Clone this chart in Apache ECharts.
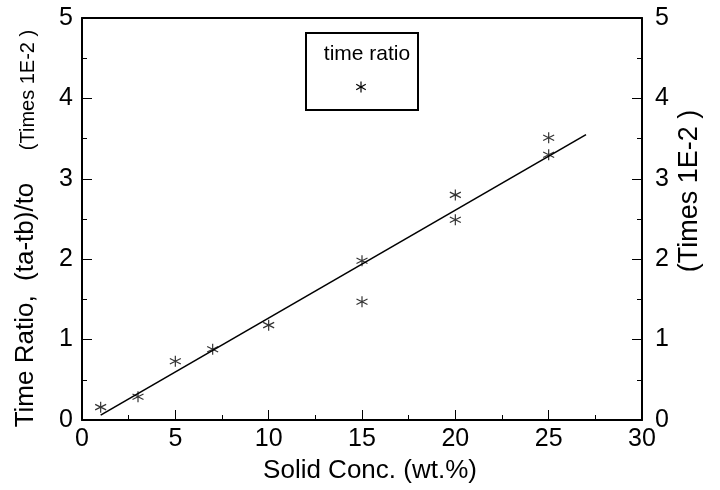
<!DOCTYPE html>
<html>
<head>
<meta charset="utf-8">
<script src="https://cdn.jsdelivr.net/npm/echarts@6/dist/echarts.min.js"></script>
<style>
  html, body { margin: 0; padding: 0; background: #fff; }
  #chart { width: 720px; height: 490px; }
</style>
</head>
<body>
<div id="chart"></div>
<script>
// measured points (solid conc. wt.%, time ratio x1E-2)
var concX = [1, 3, 5, 7, 10, 15, 15, 20, 20, 25, 25]
var ratioY = [0.16, 0.29, 0.73, 0.88, 1.18, 1.98, 1.47, 2.80, 2.49, 3.51, 3.30]
// fitted straight line
var fitX = [1, 27]
var fitY = [0.06, 3.55]

var font = 'Liberation Sans, Arial, Helvetica, sans-serif'
var star = 'path://M0,-1L0,1M-0.87,-0.5L0.87,0.5M-0.87,0.5L0.87,-0.5'

var myChart = echarts.init(document.getElementById('chart'))

function yAxisOpt(pos, align, margin) {
  return {
    type: 'value',
    position: pos,
    min: 0,
    max: 5,
    interval: 1,
    axisLine: { show: true, onZero: false, lineStyle: { color: '#000', width: 2 } },
    axisTick: { show: true, inside: true, length: 10, lineStyle: { color: '#000', width: 1 } },
    minorTick: { show: true, splitNumber: 2, length: 5, lineStyle: { color: '#000', width: 1 } },
    splitLine: { show: false },
    axisLabel: {
      color: '#000', fontSize: 25, fontFamily: font, margin: margin, align: align,
      showMinLabel: true, showMaxLabel: true
    }
  }
}

// small asterisk for the legend box, built from three short lines
function legendStar(cx, cy, r) {
  var dx = r * 0.87, dy = r * 0.5
  var st = { stroke: '#000', lineWidth: 1.2 }
  return [
    { type: 'line', shape: { x1: cx, y1: cy - r, x2: cx, y2: cy + r }, style: st },
    { type: 'line', shape: { x1: cx - dx, y1: cy - dy, x2: cx + dx, y2: cy + dy }, style: st },
    { type: 'line', shape: { x1: cx - dx, y1: cy + dy, x2: cx + dx, y2: cy - dy }, style: st }
  ]
}

var option = {
  animation: false,
  backgroundColor: '#fff',
  grid: { left: 82, top: 18, right: 78, bottom: 70, containLabel: false },
  xAxis: [
    {
      type: 'value',
      position: 'bottom',
      min: 0,
      max: 30,
      interval: 5,
      axisLine: { show: true, onZero: false, lineStyle: { color: '#000', width: 2 } },
      axisTick: { show: true, inside: true, length: 10, lineStyle: { color: '#000', width: 1 } },
      minorTick: { show: true, splitNumber: 2, length: 5, lineStyle: { color: '#000', width: 1 } },
      splitLine: { show: false },
      axisLabel: { color: '#000', fontSize: 25, fontFamily: font, margin: 7, showMinLabel: true, showMaxLabel: true }
    },
    {
      type: 'value',
      position: 'top',
      min: 0,
      max: 30,
      axisLine: { show: true, onZero: false, lineStyle: { color: '#000', width: 2 } },
      axisTick: { show: false },
      splitLine: { show: false },
      axisLabel: { show: false }
    }
  ],
  yAxis: [yAxisOpt('left', 'right', 9), yAxisOpt('right', 'left', 13)],
  series: [
    {
      name: 'fit',
      type: 'line',
      data: fitX.map(function (x, i) { return [x, fitY[i]] }),
      showSymbol: false,
      lineStyle: { color: '#000', width: 1.6 }
    },
    {
      name: 'time ratio',
      type: 'scatter',
      data: concX.map(function (x, i) { return [x, ratioY[i]] }),
      symbol: star,
      symbolSize: 11,
      itemStyle: { color: 'none', borderColor: '#000', borderWidth: 1.2 }
    }
  ],
  graphic: [
    {
      type: 'text', x: 26, y: 305, rotation: Math.PI / 2,
      style: { text: 'Time Ratio,  (ta-tb)/to', font: '26px ' + font, fill: '#000', align: 'center', verticalAlign: 'middle' }
    },
    {
      type: 'text', x: 28, y: 90, rotation: Math.PI / 2,
      style: { text: '(Times 1E-2 )', font: '20px ' + font, fill: '#000', align: 'center', verticalAlign: 'middle' }
    },
    {
      type: 'text', x: 690, y: 191, rotation: Math.PI / 2,
      style: { text: '(Times 1E-2 )', font: '27px ' + font, fill: '#000', align: 'center', verticalAlign: 'middle' }
    },
    {
      type: 'text', x: 370, y: 471,
      style: { text: 'Solid Conc. (wt.%)', font: '26px ' + font, fill: '#000', align: 'center', verticalAlign: 'middle' }
    },
    // legend box
    {
      type: 'rect', shape: { x: 306, y: 33, width: 112, height: 77 },
      style: { fill: 'none', stroke: '#000', lineWidth: 2 }
    },
    {
      type: 'text', x: 367, y: 54,
      style: { text: 'time ratio', font: '21px ' + font, fill: '#000', align: 'center', verticalAlign: 'middle' }
    }
  ].concat(legendStar(361, 87, 5.5))
}

myChart.setOption(option)
</script>
</body>
</html>
